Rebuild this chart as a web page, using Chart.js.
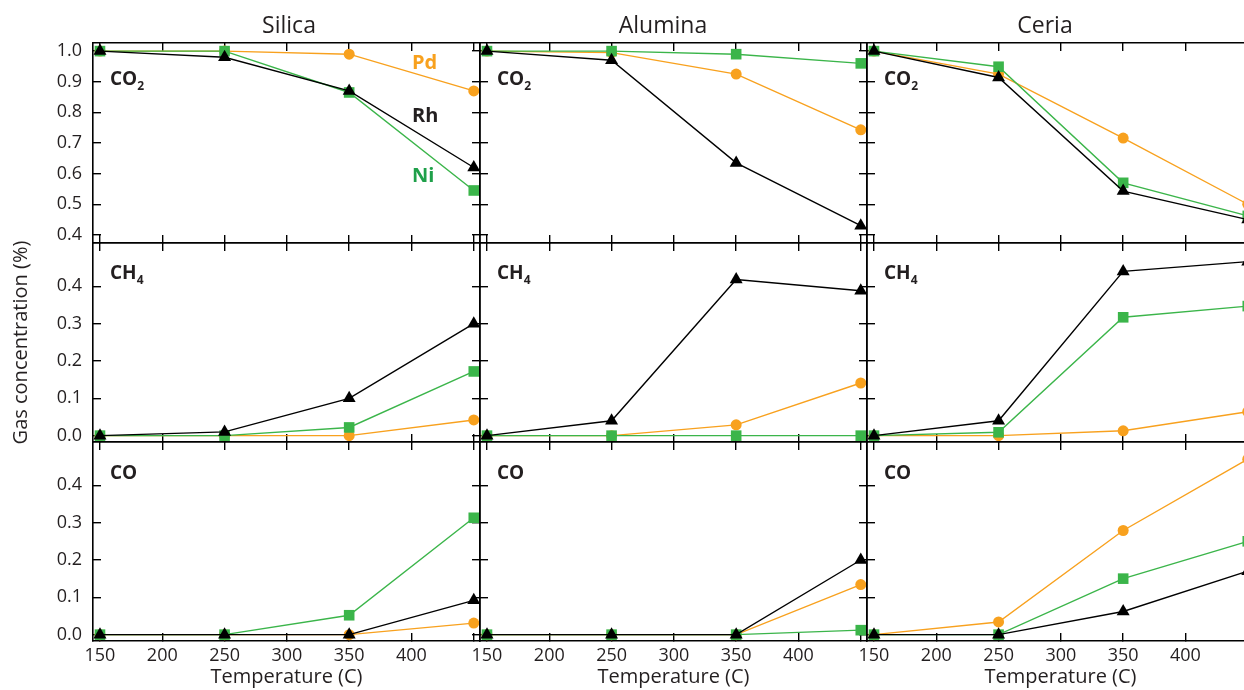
<!DOCTYPE html>
<html>
<head>
<meta charset="utf-8">
<script src="https://cdn.jsdelivr.net/npm/chart.js@4.4.0/dist/chart.umd.min.js"></script>
<style>
  html, body { margin: 0; padding: 0; background: #fff; overflow: hidden; }
  body { width: 1244px; height: 690px; position: relative; font-family: 'Open Sans', sans-serif; color: #231f20; }
  canvas { position: absolute; }
  .lbl { position: absolute; line-height: 1; white-space: nowrap; }
  .title { font-size: 23px; transform: translateX(-50%); }
  .gas { font-size: 19px; font-weight: 700; }
  .gas .sub { font-size: 12px; position: relative; top: 5px; }
  .metal { font-size: 20px; font-weight: 700; }
</style>
</head>
<body>
<script>
// x values and ticks
const temps = [150, 250, 350, 450];
const tempTicks = [150, 200, 250, 300, 350, 400, 450];
const co2Ticks = [0.4, 0.5, 0.6, 0.7, 0.8, 0.9, 1.0];
const lowTicks = [0.0, 0.1, 0.2, 0.3, 0.4];
const supports = ['Silica', 'Alumina', 'Ceria'];

// Silica
const pdSilicaCO2 = [1.0, 1.0, 0.99, 0.87];
const rhSilicaCO2 = [1.0, 0.98, 0.87, 0.62];
const niSilicaCO2 = [1.0, 1.0, 0.865, 0.545];
const pdSilicaCH4 = [0.0, 0.0, 0.0, 0.042];
const rhSilicaCH4 = [0.0, 0.01, 0.10, 0.30];
const niSilicaCH4 = [0.0, 0.0, 0.022, 0.172];
const pdSilicaCO = [0.0, 0.0, 0.0, 0.031];
const rhSilicaCO = [0.0, 0.0, 0.0, 0.092];
const niSilicaCO = [0.0, 0.0, 0.052, 0.313];

// Alumina
const pdAluminaCO2 = [1.0, 0.995, 0.925, 0.743];
const rhAluminaCO2 = [1.0, 0.97, 0.635, 0.43];
const niAluminaCO2 = [1.0, 1.0, 0.99, 0.96];
const pdAluminaCH4 = [0.0, 0.0, 0.029, 0.141];
const rhAluminaCH4 = [0.0, 0.04, 0.418, 0.388];
const niAluminaCH4 = [0.0, 0.0, 0.0, 0.0];
const pdAluminaCO = [0.0, 0.0, 0.0, 0.134];
const rhAluminaCO = [0.0, 0.0, 0.0, 0.20];
const niAluminaCO = [0.0, 0.0, 0.0, 0.012];

// Ceria
const pdCeriaCO2 = [1.0, 0.925, 0.716, 0.50];
const rhCeriaCO2 = [1.0, 0.914, 0.543, 0.45];
const niCeriaCO2 = [1.0, 0.949, 0.57, 0.462];
const pdCeriaCH4 = [0.0, 0.0, 0.013, 0.064];
const rhCeriaCH4 = [0.0, 0.04, 0.44, 0.466];
const niCeriaCH4 = [0.0, 0.009, 0.317, 0.347];
const pdCeriaCO = [0.0, 0.034, 0.279, 0.47];
const rhCeriaCO = [0.0, 0.0, 0.062, 0.17];
const niCeriaCO = [0.0, 0.0, 0.15, 0.25];

const grid = [
    [
        { Rh: rhSilicaCO2, Ni: niSilicaCO2, Pd: pdSilicaCO2 },
        { Rh: rhAluminaCO2, Ni: niAluminaCO2, Pd: pdAluminaCO2 },
        { Rh: rhCeriaCO2, Ni: niCeriaCO2, Pd: pdCeriaCO2 }
    ],
    [
        { Rh: rhSilicaCH4, Ni: niSilicaCH4, Pd: pdSilicaCH4 },
        { Rh: rhAluminaCH4, Ni: niAluminaCH4, Pd: pdAluminaCH4 },
        { Rh: rhCeriaCH4, Ni: niCeriaCH4, Pd: pdCeriaCH4 }
    ],
    [
        { Rh: rhSilicaCO, Ni: niSilicaCO, Pd: pdSilicaCO },
        { Rh: rhAluminaCO, Ni: niAluminaCO, Pd: pdAluminaCO },
        { Rh: rhCeriaCO, Ni: niCeriaCO, Pd: pdCeriaCO }
    ]
];

const ORANGE = '#F8A11E';
const GREEN = '#3BB54A';
const INK = '#231f20';
const styles = {
    Rh: { color: '#000000', pointStyle: 'triangle', radius: 7.5 },
    Ni: { color: GREEN, pointStyle: 'rect', radius: 7.5 },
    Pd: { color: ORANGE, pointStyle: 'circle', radius: 5.5 }
};

// layout of the 3x3 panels (plot areas)
const colLeft = [93, 480, 867];
const plotW = 387;
const rowTop = [43, 243, 442];
const rowH = [200, 199, 199];
const yAxisW = 93;
const pad = 12;
const bottomAxisH = 50;

function makePanel(r, c) {
    const series = grid[r][c];
    const w = yAxisW + plotW + pad;
    const h = pad + rowH[r] + (r === 2 ? bottomAxisH : pad);
    const canvas = document.createElement('canvas');
    canvas.width = w;
    canvas.height = h;
    canvas.style.left = (colLeft[c] - yAxisW) + 'px';
    canvas.style.top = (rowTop[r] - pad) + 'px';
    canvas.style.width = w + 'px';
    canvas.style.height = h + 'px';
    document.body.appendChild(canvas);

    const yMin = r === 0 ? 0.3735 : -0.017;
    const yMax = r === 0 ? 1.0265 : 0.516;
    const yTicks = r === 0 ? co2Ticks : lowTicks;

    const tickGrid = { drawOnChartArea: false, drawTicks: true, tickLength: -8, color: '#000', lineWidth: 1.4 };
    const border = { display: true, color: '#000', width: 1.6 };
    const font = { family: 'Open Sans', size: 18 };

    const datasets = ['Rh', 'Ni', 'Pd'].map(m => ({
        label: m,
        data: temps.map((t, i) => ({ x: t, y: series[m][i] })),
        borderColor: styles[m].color,
        backgroundColor: styles[m].color,
        pointBackgroundColor: styles[m].color,
        pointBorderColor: styles[m].color,
        pointBorderWidth: 0,
        pointStyle: styles[m].pointStyle,
        pointRadius: styles[m].radius,
        borderWidth: 1.4,
        tension: 0,
        clip: false
    }));

    new Chart(canvas, {
        type: 'line',
        data: { datasets },
        options: {
            responsive: false,
            animation: false,
            devicePixelRatio: 1,
            layout: { padding: { left: 0, top: pad, right: pad, bottom: 0 } },
            plugins: { legend: { display: false }, tooltip: { enabled: false } },
            scales: {
                x: {
                    type: 'linear', position: 'bottom', min: 144.4, max: 455,
                    afterBuildTicks: s => { s.ticks = tempTicks.map(v => ({ value: v })); },
                    afterFit: s => { s.height = r === 2 ? bottomAxisH : pad; s.paddingLeft = 0; s.paddingRight = 0; },
                    ticks: {
                        display: r === 2, autoSkip: false, maxRotation: 0, padding: 12,
                        color: INK, font,
                        callback: v => v === 450 ? '' : String(v)
                    },
                    grid: tickGrid, border,
                    title: {
                        display: r === 2, text: 'Temperature (C)', color: INK,
                        font: { family: 'Open Sans', size: 20 }, padding: { top: 0, bottom: 2 }
                    }
                },
                x2: {
                    type: 'linear', axis: 'x', position: 'top', min: 144.4, max: 455,
                    afterBuildTicks: s => { s.ticks = tempTicks.map(v => ({ value: v })); },
                    afterFit: s => { s.height = 0; s.paddingLeft = 0; s.paddingRight = 0; },
                    ticks: { display: false },
                    grid: tickGrid, border
                },
                y: {
                    type: 'linear', position: 'left', min: yMin, max: yMax,
                    afterBuildTicks: s => { s.ticks = yTicks.map(v => ({ value: v })); },
                    afterFit: s => { s.width = yAxisW; s.paddingTop = 0; s.paddingBottom = 0; },
                    ticks: {
                        display: c === 0, padding: 19, color: INK, font,
                        callback: v => v.toFixed(1)
                    },
                    grid: tickGrid, border,
                    title: {
                        display: r === 1 && c === 0, text: 'Gas concentration (%)', color: INK,
                        font: { family: 'Open Sans', size: 20 }, padding: { top: 9, bottom: 0 }
                    }
                },
                y2: {
                    type: 'linear', axis: 'y', position: 'right', min: yMin, max: yMax,
                    afterBuildTicks: s => { s.ticks = yTicks.map(v => ({ value: v })); },
                    afterFit: s => { s.width = 0; s.paddingTop = 0; s.paddingBottom = 0; },
                    ticks: { display: false },
                    grid: tickGrid, border
                }
            }
        }
    });
}

for (let r = 0; r < 3; r++) {
    for (let c = 0; c < 3; c++) makePanel(r, c);
}

// text annotations (baseline positions)
function addLabel(html, cls, x, baseline, size, color) {
    const d = document.createElement('div');
    d.className = 'lbl ' + cls;
    d.innerHTML = html;
    d.style.left = x + 'px';
    d.style.top = (baseline - 0.888 * size) + 'px';
    if (color) d.style.color = color;
    document.body.appendChild(d);
}

const titleX = [289, 663, 1045];
supports.forEach((s, i) => addLabel(s, 'title', titleX[i], 33, 23));

const gasHtml = ['CO<span class="sub">2</span>', 'CH<span class="sub">4</span>', 'CO'];
const gasBase = [86, 280, 480];
for (let r = 0; r < 3; r++) {
    for (let c = 0; c < 3; c++) addLabel(gasHtml[r], 'gas', colLeft[c] + 17, gasBase[r], 19);
}

addLabel('Pd', 'metal', 412, 70, 20, ORANGE);
addLabel('Rh', 'metal', 412, 123, 20, '#231f20');
addLabel('Ni', 'metal', 412, 183, 20, '#1FA04A');
</script>
</body>
</html>
